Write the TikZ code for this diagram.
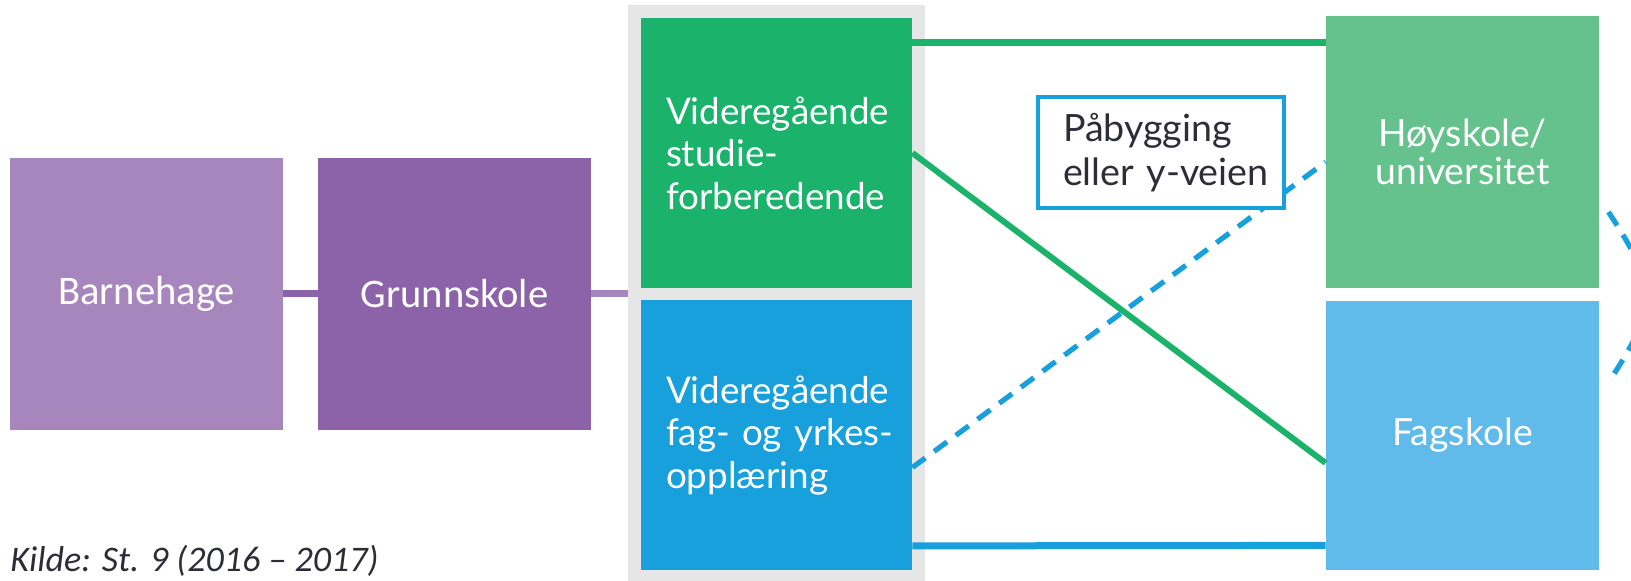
\documentclass[tikz,border=0pt]{standalone}
\usepackage{fontspec}
\setmainfont{Lato}
\newfontfamily\calfont{Carlito}
\usetikzlibrary{positioning,calc}
\definecolor{barnlilla}{RGB}{166,134,188}
\definecolor{grunnlilla}{RGB}{140,99,168}
\definecolor{panelgraa}{RGB}{230,230,230}
\definecolor{studgronn}{RGB}{27,179,107}
\definecolor{yrkesblaa}{RGB}{23,160,219}
\definecolor{hoygronn}{RGB}{102,194,140}
\definecolor{fagblaa}{RGB}{96,186,234}
\definecolor{tekstgraa}{RGB}{45,45,55}

\begin{document}
\begin{tikzpicture}[
    x=0.5pt,y=-0.5pt,
    kidsbox/.style={minimum width=136.5pt,minimum height=136pt,inner sep=0pt,text=white,font=\calfont\fontsize{20.3}{24}\selectfont},
    vgsbox/.style={minimum height=135pt,text width=110.5pt,inner xsep=12.5pt,inner ysep=0pt,text=white,align=left,font=\fontsize{18.4}{21.3}\selectfont},
    hebox/.style={minimum width=136.5pt,inner sep=0pt,text=white,align=center,font=\fontsize{18.7}{19}\selectfont},
    pabox/.style={draw=yrkesblaa,line width=2pt,fill=white,minimum height=55.5pt,text width=98pt,inner xsep=12.5pt,inner ysep=0pt,align=left,text=tekstgraa,font=\fontsize{18.8}{22}\selectfont},
    link/.style={line width=3.5pt},
    ypath/.style={line width=2.6pt,yrkesblaa,dash pattern=on 8pt off 5.5pt}
]
\useasboundingbox (0,0) rectangle (1631,581);
\clip (0,0) rectangle (1631,581);

\node[kidsbox,fill=barnlilla] (barn) at (146.5,294) {Barnehage};
\node[kidsbox,fill=grunnlilla] (grunn) at (454.5,294) {Grunnskole};
\node[fill=panelgraa,minimum width=148.5pt,minimum height=300pt,inner sep=0pt] (panel) at (776.5,305) {};
\node[vgsbox,fill=studgronn] (stud) at (776.5,153) {\mbox{Videregående}\\studie-\\\mbox{forberedende}};
\node[vgsbox,fill=yrkesblaa] (yrke) at (776.5,435.5) {\mbox{Videregående}\\\mbox{fag- og yrkes-}\\opplæring};
\node[hebox,fill=hoygronn,minimum height=136pt] (hoy) at (1462.5,152) {Høyskole/\\universitet};
\node[hebox,fill=fagblaa,minimum height=134.5pt] (fag) at (1462.5,435.5) {Fagskole};

\draw[link,grunnlilla] (barn) -- (grunn);
\draw[link,barnlilla] (grunn) -- (grunn -| panel.west);

\draw[link,studgronn] ([shift={(0,25)}]stud.north east) -- ([shift={(0,27)}]hoy.north west);
\draw[line width=3pt,studgronn] (stud.east) -- ([shift={(0,27.5)}]fag.west);
\draw[link,yrkesblaa] ([shift={(0,-25)}]yrke.south east) -- ([shift={(0,-25)}]fag.south west);
\draw[ypath] ([shift={(0,32)}]yrke.east) -- ([shift={(0,10)}]hoy.west);
\draw[ypath] ([shift={(9,60)}]hoy.east) .. controls +(50,76) and +(50,-76) .. ([shift={(9,-53)}]fag.east);

\node[pabox] (pab) at (1161,152.5) {Påbygging\\\mbox{eller y-veien}};

\node[anchor=base west,inner sep=0pt,text=tekstgraa,font=\calfont\itshape\fontsize{18}{20}\selectfont] (kilde) at (10,572) {Kilde: St. 9 (2016 – 2017)};
\end{tikzpicture}
\end{document}
